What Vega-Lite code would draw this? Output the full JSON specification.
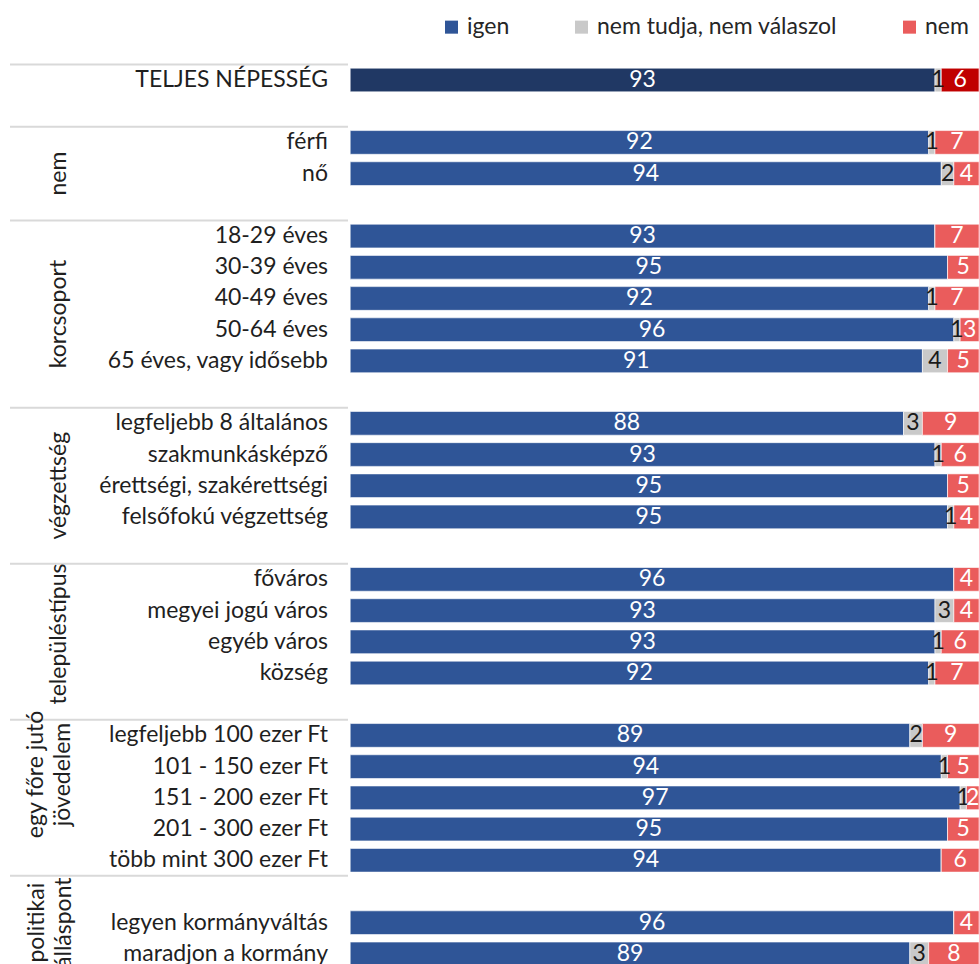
{
  "$schema": "https://vega.github.io/schema/vega-lite/v6.json",
  "width": 969,
  "height": 899.6,
  "autosize": "none",
  "padding": {"left": 10, "top": 64.4, "right": 0, "bottom": 0},
  "background": "white",
  "config": {
    "view": {"stroke": null},
    "text": {"font": "Lato", "fontSize": 23},
    "legend": {"labelFont": "Lato", "labelFontSize": 23, "labelColor": "#262626"}
  },
  "datasets": {
    "rows": [
      {"row": "TELJES NÉPESSÉG", "series": "igen", "value": 93},
      {"row": "TELJES NÉPESSÉG", "series": "nem tudja, nem válaszol", "value": 1},
      {"row": "TELJES NÉPESSÉG", "series": "nem", "value": 6},
      {"row": "férfi", "series": "igen", "value": 92},
      {"row": "férfi", "series": "nem tudja, nem válaszol", "value": 1},
      {"row": "férfi", "series": "nem", "value": 7},
      {"row": "nő", "series": "igen", "value": 94},
      {"row": "nő", "series": "nem tudja, nem válaszol", "value": 2},
      {"row": "nő", "series": "nem", "value": 4},
      {"row": "18-29 éves", "series": "igen", "value": 93},
      {"row": "18-29 éves", "series": "nem tudja, nem válaszol", "value": 0},
      {"row": "18-29 éves", "series": "nem", "value": 7},
      {"row": "30-39 éves", "series": "igen", "value": 95},
      {"row": "30-39 éves", "series": "nem tudja, nem válaszol", "value": 0},
      {"row": "30-39 éves", "series": "nem", "value": 5},
      {"row": "40-49 éves", "series": "igen", "value": 92},
      {"row": "40-49 éves", "series": "nem tudja, nem válaszol", "value": 1},
      {"row": "40-49 éves", "series": "nem", "value": 7},
      {"row": "50-64 éves", "series": "igen", "value": 96},
      {"row": "50-64 éves", "series": "nem tudja, nem válaszol", "value": 1},
      {"row": "50-64 éves", "series": "nem", "value": 3},
      {"row": "65 éves, vagy idősebb", "series": "igen", "value": 91},
      {"row": "65 éves, vagy idősebb", "series": "nem tudja, nem válaszol", "value": 4},
      {"row": "65 éves, vagy idősebb", "series": "nem", "value": 5},
      {"row": "legfeljebb 8 általános", "series": "igen", "value": 88},
      {"row": "legfeljebb 8 általános", "series": "nem tudja, nem válaszol", "value": 3},
      {"row": "legfeljebb 8 általános", "series": "nem", "value": 9},
      {"row": "szakmunkásképző", "series": "igen", "value": 93},
      {"row": "szakmunkásképző", "series": "nem tudja, nem válaszol", "value": 1},
      {"row": "szakmunkásképző", "series": "nem", "value": 6},
      {"row": "érettségi, szakérettségi", "series": "igen", "value": 95},
      {"row": "érettségi, szakérettségi", "series": "nem tudja, nem válaszol", "value": 0},
      {"row": "érettségi, szakérettségi", "series": "nem", "value": 5},
      {"row": "felsőfokú végzettség", "series": "igen", "value": 95},
      {"row": "felsőfokú végzettség", "series": "nem tudja, nem válaszol", "value": 1},
      {"row": "felsőfokú végzettség", "series": "nem", "value": 4},
      {"row": "főváros", "series": "igen", "value": 96},
      {"row": "főváros", "series": "nem tudja, nem válaszol", "value": 0},
      {"row": "főváros", "series": "nem", "value": 4},
      {"row": "megyei jogú város", "series": "igen", "value": 93},
      {"row": "megyei jogú város", "series": "nem tudja, nem válaszol", "value": 3},
      {"row": "megyei jogú város", "series": "nem", "value": 4},
      {"row": "egyéb város", "series": "igen", "value": 93},
      {"row": "egyéb város", "series": "nem tudja, nem válaszol", "value": 1},
      {"row": "egyéb város", "series": "nem", "value": 6},
      {"row": "község", "series": "igen", "value": 92},
      {"row": "község", "series": "nem tudja, nem válaszol", "value": 1},
      {"row": "község", "series": "nem", "value": 7},
      {"row": "legfeljebb 100 ezer Ft", "series": "igen", "value": 89},
      {"row": "legfeljebb 100 ezer Ft", "series": "nem tudja, nem válaszol", "value": 2},
      {"row": "legfeljebb 100 ezer Ft", "series": "nem", "value": 9},
      {"row": "101 - 150 ezer Ft", "series": "igen", "value": 94},
      {"row": "101 - 150 ezer Ft", "series": "nem tudja, nem válaszol", "value": 1},
      {"row": "101 - 150 ezer Ft", "series": "nem", "value": 5},
      {"row": "151 - 200 ezer Ft", "series": "igen", "value": 97},
      {"row": "151 - 200 ezer Ft", "series": "nem tudja, nem válaszol", "value": 1},
      {"row": "151 - 200 ezer Ft", "series": "nem", "value": 2},
      {"row": "201 - 300 ezer Ft", "series": "igen", "value": 95},
      {"row": "201 - 300 ezer Ft", "series": "nem tudja, nem válaszol", "value": 0},
      {"row": "201 - 300 ezer Ft", "series": "nem", "value": 5},
      {"row": "több mint 300 ezer Ft", "series": "igen", "value": 94},
      {"row": "több mint 300 ezer Ft", "series": "nem tudja, nem válaszol", "value": 0},
      {"row": "több mint 300 ezer Ft", "series": "nem", "value": 6},
      {"row": "legyen kormányváltás", "series": "igen", "value": 96},
      {"row": "legyen kormányváltás", "series": "nem tudja, nem válaszol", "value": 0},
      {"row": "legyen kormányváltás", "series": "nem", "value": 4},
      {"row": "maradjon a kormány", "series": "igen", "value": 89},
      {"row": "maradjon a kormány", "series": "nem tudja, nem válaszol", "value": 3},
      {"row": "maradjon a kormány", "series": "nem", "value": 8}
    ]
  },
  "layer": [
    {
      "data": {"name": "rows"},
      "transform": [{"calculate": "indexof(['igen','nem tudja, nem válaszol','nem'], datum.series)", "as": "k"}],
      "mark": {"type": "bar", "height": {"band": 0.76}, "stroke": "white", "strokeWidth": 0.6},
      "encoding": {
        "y": {
          "field": "row", "type": "nominal", "axis": null,
          "scale": {
            "domain": ["TELJES NÉPESSÉG", "_1", "férfi", "nő", "_4", "18-29 éves", "30-39 éves", "40-49 éves", "50-64 éves", "65 éves, vagy idősebb", "_10", "legfeljebb 8 általános", "szakmunkásképző", "érettségi, szakérettségi", "felsőfokú végzettség", "_15", "főváros", "megyei jogú város", "egyéb város", "község", "_20", "legfeljebb 100 ezer Ft", "101 - 150 ezer Ft", "151 - 200 ezer Ft", "201 - 300 ezer Ft", "több mint 300 ezer Ft", "_26", "legyen kormányváltás", "maradjon a kormány"],
            "range": [0, 905.1],
            "paddingInner": 0, "paddingOuter": 0
          }
        },
        "x": {
          "field": "value", "type": "quantitative", "stack": "zero", "axis": null,
          "scale": {"domain": [-54.1, 100], "nice": false, "zero": false}
        },
        "order": {"field": "k", "type": "quantitative"},
        "color": {
          "field": "series", "type": "nominal",
          "scale": {"domain": ["igen", "nem tudja, nem válaszol", "nem"], "range": ["#2F5597", "#C9C9C9", "#EA5C5C"]},
          "legend": {
            "title": null, "orient": "none", "direction": "horizontal",
            "legendX": 430, "legendY": -49, "padding": 0,
            "symbolType": "square", "symbolSize": 170, "symbolStrokeWidth": 0,
            "labelOffset": 4, "columnPadding": 60, "labelLimit": 500,
            "labelExpr": "datum.label === 'igen' ? datum.label + '\u00a0\u00a0' : datum.label"
          },
          "condition": [
            {"test": "datum.row === 'TELJES NÉPESSÉG' && datum.series === 'igen'", "value": "#203864"},
            {"test": "datum.row === 'TELJES NÉPESSÉG' && datum.series === 'nem'", "value": "#C00000"}
          ]
        }
      }
    },
    {
      "data": {"name": "rows"},
      "transform": [
        {"filter": "datum.value > 0"},
        {"calculate": "indexof(['igen','nem tudja, nem válaszol','nem'], datum.series)", "as": "k"}
      ],
      "mark": {"type": "text", "baseline": "middle", "align": "center"},
      "encoding": {
        "y": {"field": "row", "type": "nominal"},
        "x": {"field": "value", "type": "quantitative", "stack": "zero", "bandPosition": 0.5},
        "order": {"field": "k", "type": "quantitative"},
        "text": {"field": "value", "type": "quantitative"},
        "color": {
          "condition": {"test": "datum.series === 'nem tudja, nem válaszol'", "value": "#1a1a1a"},
          "value": "white"
        }
      }
    },
    {
      "data": {"name": "rows"},
      "transform": [{"filter": "datum.series === 'igen'"}],
      "mark": {"type": "text", "align": "right", "baseline": "middle", "color": "#1f1f1f"},
      "encoding": {
        "y": {"field": "row", "type": "nominal"},
        "x": {"datum": -3.53},
        "text": {"field": "row", "type": "nominal"}
      }
    },
    {
      "data": {"values": [
        {"at": "TELJES NÉPESSÉG"}, {"at": "férfi"}, {"at": "18-29 éves"}, {"at": "legfeljebb 8 általános"},
        {"at": "főváros"}, {"at": "legfeljebb 100 ezer Ft"}, {"at": "_26"}
      ]},
      "mark": {"type": "rule", "color": "#D9D9D9", "strokeWidth": 2},
      "encoding": {
        "y": {"field": "at", "type": "nominal", "bandPosition": 0},
        "x": {"datum": -54.1},
        "x2": {"datum": -0.35}
      }
    },
    {
      "mark": {"type": "rule", "color": "#D9D9D9", "strokeWidth": 2},
      "encoding": {"x": {"datum": -0.35}}
    },
    {
      "data": {"values": [{"label": "nem", "at": "nő"}, {"label": "végzettség", "at": "érettségi, szakérettségi"}]},
      "mark": {"type": "text", "angle": 270, "align": "center", "baseline": "middle", "color": "#1f1f1f"},
      "encoding": {
        "y": {"field": "at", "type": "nominal", "bandPosition": 0.5},
        "x": {"datum": -46.3},
        "text": {"field": "label"}
      }
    },
    {
      "data": {"values": [{"label": "korcsoport", "at": "40-49 éves"}]},
      "mark": {"type": "text", "angle": 270, "align": "center", "baseline": "middle", "color": "#1f1f1f"},
      "encoding": {
        "y": {"field": "at", "type": "nominal", "bandPosition": 1},
        "x": {"datum": -46.3},
        "text": {"field": "label"}
      }
    },
    {
      "data": {"values": [{"label": "településtípus", "at": "egyéb város"}]},
      "mark": {"type": "text", "angle": 270, "align": "center", "baseline": "middle", "color": "#1f1f1f"},
      "encoding": {
        "y": {"field": "at", "type": "nominal", "bandPosition": 0.25},
        "x": {"datum": -46.3},
        "text": {"field": "label"}
      }
    },
    {
      "data": {"values": [{"label": "egy főre jutó\njövedelem", "at": "101 - 150 ezer Ft"}]},
      "mark": {"type": "text", "angle": 270, "align": "center", "baseline": "middle", "lineBreak": "\n", "lineHeight": 27, "color": "#1f1f1f"},
      "encoding": {
        "y": {"field": "at", "type": "nominal", "bandPosition": 0.75},
        "x": {"datum": -49.9},
        "text": {"field": "label"}
      }
    },
    {
      "data": {"values": [{"label": "politikai\nálláspont", "at": "legyen kormányváltás"}]},
      "mark": {"type": "text", "angle": 270, "align": "center", "baseline": "middle", "lineBreak": "\n", "lineHeight": 27, "color": "#1f1f1f"},
      "encoding": {
        "y": {"field": "at", "type": "nominal", "bandPosition": 0.5},
        "x": {"datum": -49.8},
        "text": {"field": "label"}
      }
    }
  ]
}
